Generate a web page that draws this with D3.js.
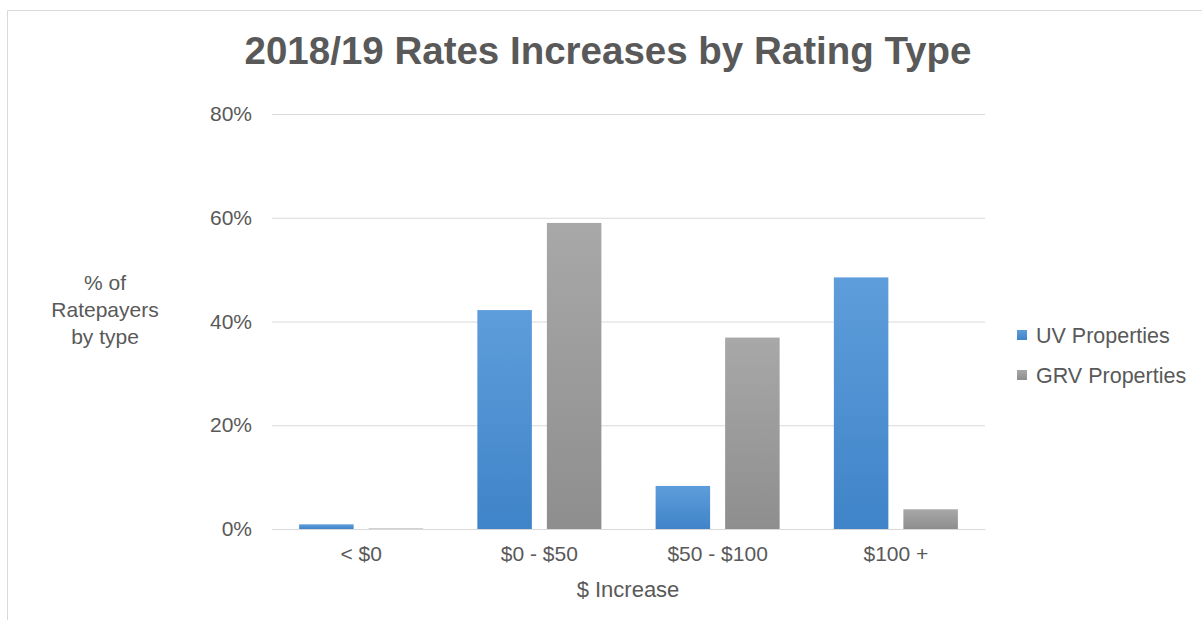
<!DOCTYPE html>
<html>
<head>
  <meta charset="utf-8">
  <title>2018/19 Rates Increases by Rating Type</title>
  <script src="https://d3js.org/d3.v7.min.js"></script>
  <style>
    body { margin: 0; overflow: hidden; background: #fff; }
    text { font-family: "Liberation Sans", Arial, sans-serif; fill: #595959; }
  </style>
</head>
<body>
<svg width="1202" height="620"></svg>
<script>
// --- data ---
const categories = ["< $0", "$0 - $50", "$50 - $100", "$100 +"];
const seriesNames = ["UV Properties", "GRV Properties"];
const uvValues = [0.9, 42.2, 8.3, 48.5];
const grvValues = [0.1, 59.0, 36.9, 3.8];
const yTicks = [0, 20, 40, 60, 80];

const svg = d3.select("svg");
const W = 1202, H = 620;
const m = {left: 272, right: 217, top: 114, bottom: 91};

// frame (only top + left edges visible in the reference)
svg.append("line").attr("x1", 7.5).attr("x2", W).attr("y1", 10.5).attr("y2", 10.5)
  .attr("stroke", "#d9d9d9");
svg.append("line").attr("x1", 7.5).attr("x2", 7.5).attr("y1", 10.5).attr("y2", H)
  .attr("stroke", "#d9d9d9");

const x = d3.scaleBand().domain(categories).range([m.left, W - m.right]);
const x1 = d3.scaleBand().domain(seriesNames).range([0, x.bandwidth()]).paddingInner(0.216).paddingOuter(0.39);
const y = d3.scaleLinear().domain([0, 80]).range([H - m.bottom, m.top]);
const color = {"UV Properties": ["#5e9ddb", "#3f84c8"], "GRV Properties": ["#a8a8a8", "#8e8e8e"]};

// gradients
const defs = svg.append("defs");
seriesNames.forEach((s, i) => {
  const g = defs.append("linearGradient").attr("id", "g" + i)
    .attr("x1", 0).attr("y1", 0).attr("x2", 0).attr("y2", 1);
  g.append("stop").attr("offset", "0%").attr("stop-color", color[s][0]);
  g.append("stop").attr("offset", "100%").attr("stop-color", color[s][1]);
});

// gridlines + y labels
const yAxis = svg.append("g").attr("transform", `translate(${m.left},0)`)
  .call(d3.axisLeft(y).tickValues(yTicks).tickSize(-(W - m.left - m.right)).tickPadding(20)
    .tickFormat(d => d + "%"));
yAxis.select(".domain").remove();
yAxis.selectAll("line").attr("stroke", "#d9d9d9");
yAxis.selectAll("text").attr("font-size", 21).attr("fill", "#595959");

// bars
const rows = categories.map((c, i) => ({cat: c, vals: [uvValues[i], grvValues[i]]}));
const grp = svg.append("g").selectAll("g").data(rows).join("g")
  .attr("transform", d => `translate(${x(d.cat)},0)`);
grp.selectAll("rect").data(d => d.vals.map((v, i) => ({s: seriesNames[i], i, v})))
  .join("rect")
  .attr("x", d => x1(d.s))
  .attr("width", x1.bandwidth())
  .attr("y", d => y(d.v))
  .attr("height", d => y(0) - y(d.v))
  .attr("fill", d => `url(#g${d.i})`);

// x axis
const xAxis = svg.append("g").attr("transform", `translate(0,${y(0)})`)
  .call(d3.axisBottom(x).tickSize(0).tickPadding(17));
xAxis.select(".domain").attr("stroke", "#d9d9d9");
xAxis.selectAll("text").attr("font-size", 21).attr("fill", "#595959");

// axis titles
svg.append("text").attr("x", 628).attr("y", 597)
  .attr("text-anchor", "middle").attr("font-size", 22).text("$ Increase");
const yt = svg.append("text").attr("text-anchor", "middle").attr("font-size", 21);
["% of", "Ratepayers", "by type"].forEach((t, i) =>
  yt.append("tspan").attr("x", 105).attr("y", 290 + i * 27).text(t));

// title
svg.append("text").attr("x", 608).attr("y", 64).attr("text-anchor", "middle")
  .attr("font-size", 38.5).attr("font-weight", "bold").text("2018/19 Rates Increases by Rating Type");

// legend
const leg = svg.append("g").selectAll("g").data(seriesNames).join("g")
  .attr("transform", (d, i) => `translate(1017,${330 + i * 40})`);
leg.append("rect").attr("width", 10).attr("height", 10).attr("fill", (d, i) => `url(#g${i})`);
leg.append("text").attr("x", 19).attr("y", 5).attr("dy", "0.35em").attr("font-size", 21.5).text(d => d);
</script>
</body>
</html>
